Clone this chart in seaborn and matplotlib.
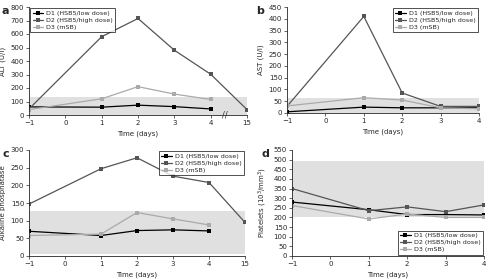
import matplotlib
matplotlib.use("Agg")
import matplotlib.pyplot as plt
import seaborn as sns
import pandas as pd

sns.set_style("ticks")
plt.rcParams['font.family'] = ['DejaVu Sans']

series = ["D1 (HSB5/low dose)", "D2 (HSB5/high dose)", "D3 (mSB)"]
colors = ["#000000", "#555555", "#aaaaaa"]

# Panel a: ALT
alt_days = {
    series[0]: [-1, 1, 2, 3, 4],
    series[1]: [-1, 1, 2, 3, 4, 15],
    series[2]: [-1, 1, 2, 3, 4],
}
alt_vals = {
    series[0]: [60, 58, 73, 62, 45],
    series[1]: [45, 580, 715, 480, 302, 40],
    series[2]: [40, 120, 210, 155, 115],
}
# Panel b: AST
ast_days = {s: [-1, 1, 2, 3, 4] for s in series}
ast_vals = {
    series[0]: [5, 25, 22, 22, 22],
    series[1]: [28, 410, 85, 28, 28],
    series[2]: [30, 65, 55, 22, 18],
}
# Panel c: alkaline phosphatase
alp_days = {
    series[0]: [-1, 1, 2, 3, 4],
    series[1]: [-1, 1, 2, 3, 4, 15],
    series[2]: [-1, 1, 2, 3, 4],
}
alp_vals = {
    series[0]: [70, 58, 72, 74, 71],
    series[1]: [147, 247, 278, 226, 208, 95],
    series[2]: [58, 62, 123, 105, 88],
}
# Panel d: platelets
plt_days = {s: [-1, 1, 2, 3, 4] for s in series}
plt_vals = {
    series[0]: [280, 240, 215, 215, 213],
    series[1]: [350, 235, 255, 230, 265],
    series[2]: [262, 192, 218, 200, 200],
}

normal_ranges = {"a": (0, 130), "b": (0, 62), "c": (5, 128), "d": (200, 495)}

def day_pos(d):
    return 5 if d == 15 else d

def make_df(days, vals):
    rows = []
    for s in series:
        for d, v in zip(days[s], vals[s]):
            rows.append({"series": s, "day": d, "pos": day_pos(d), "value": v})
    return pd.DataFrame(rows)

fig = plt.figure(figsize=(4.88, 2.79), dpi=100)
W, H = 488, 279
def box(x0, x1, y_top, y_bot):
    return [x0 / W, 1 - y_bot / H, (x1 - x0) / W, (y_bot - y_top) / H]

ax_a = fig.add_axes(box(29, 247, 7, 115))
ax_b = fig.add_axes(box(287, 479, 7, 113))
ax_c = fig.add_axes(box(29, 245, 150, 256))
ax_d = fig.add_axes(box(292, 484, 150, 256))

panels = [
    (ax_a, alt_days, alt_vals, "ALT (U/l)", (0, 800), range(0, 801, 100), True, "a", "upper left"),
    (ax_b, ast_days, ast_vals, "AST (U/l)", (0, 450), range(0, 451, 50), False, "b", "upper right"),
    (ax_c, alp_days, alp_vals, "Alkaline phosphatase", (0, 300), range(0, 301, 50), True, "c", "upper right"),
    (ax_d, plt_days, plt_vals, "Platelets (10$^3$/mm$^3$)", (0, 550), range(0, 551, 50), False, "d", "lower right"),
]

fs = 5
for ax, days, vals, ylabel, ylim, yticks, broken, letter, loc in panels:
    lo, hi = normal_ranges[letter]
    ax.axhspan(lo, hi, color="#e0e0e0", zorder=0, lw=0)
    df = make_df(days, vals)
    sns.lineplot(data=df, x="pos", y="value", hue="series", palette=colors,
                 marker="s", markersize=3, markeredgewidth=0, linewidth=0.9,
                 ax=ax, legend=True, clip_on=True)
    ax.set_ylim(*ylim)
    ax.set_yticks(list(yticks))
    if broken:
        ax.set_xlim(-1, 5.0)
        ax.set_xticks([-1, 0, 1, 2, 3, 4, 5])
        ax.set_xticklabels(["\u22121", "0", "1", "2", "3", "4", "15"])
    else:
        ax.set_xlim(-1, 4)
        ax.set_xticks([-1, 0, 1, 2, 3, 4])
        ax.set_xticklabels(["\u22121", "0", "1", "2", "3", "4"])
    ax.tick_params(labelsize=fs, length=2, width=0.5, pad=1.5)
    ax.set_xlabel("Time (days)", fontsize=fs, labelpad=3)
    ax.set_ylabel(ylabel, fontsize=fs, labelpad=3)
    for sp in ["top", "right"]:
        ax.spines[sp].set_visible(False)
    for sp in ["left", "bottom"]:
        ax.spines[sp].set_linewidth(0.6)
    leg = ax.legend(loc=loc, fontsize=4.6, frameon=True, fancybox=False,
                    edgecolor="black", borderpad=0.35, handlelength=1.6,
                    handletextpad=0.5, labelspacing=0.25, borderaxespad=0.2)
    leg.get_frame().set_linewidth(0.6)
    for line in leg.get_lines():
        line.set_markersize(3)
    ax.text(-0.09 if letter in "ac" else -0.12, 1.01, letter, transform=ax.transAxes,
            fontsize=8, fontweight="bold", va="top", ha="right")

ax_a.text(4.38, 0, "//", fontsize=6, ha="center", va="center", color="#333333")

fig.savefig("out.png", dpi=100)
